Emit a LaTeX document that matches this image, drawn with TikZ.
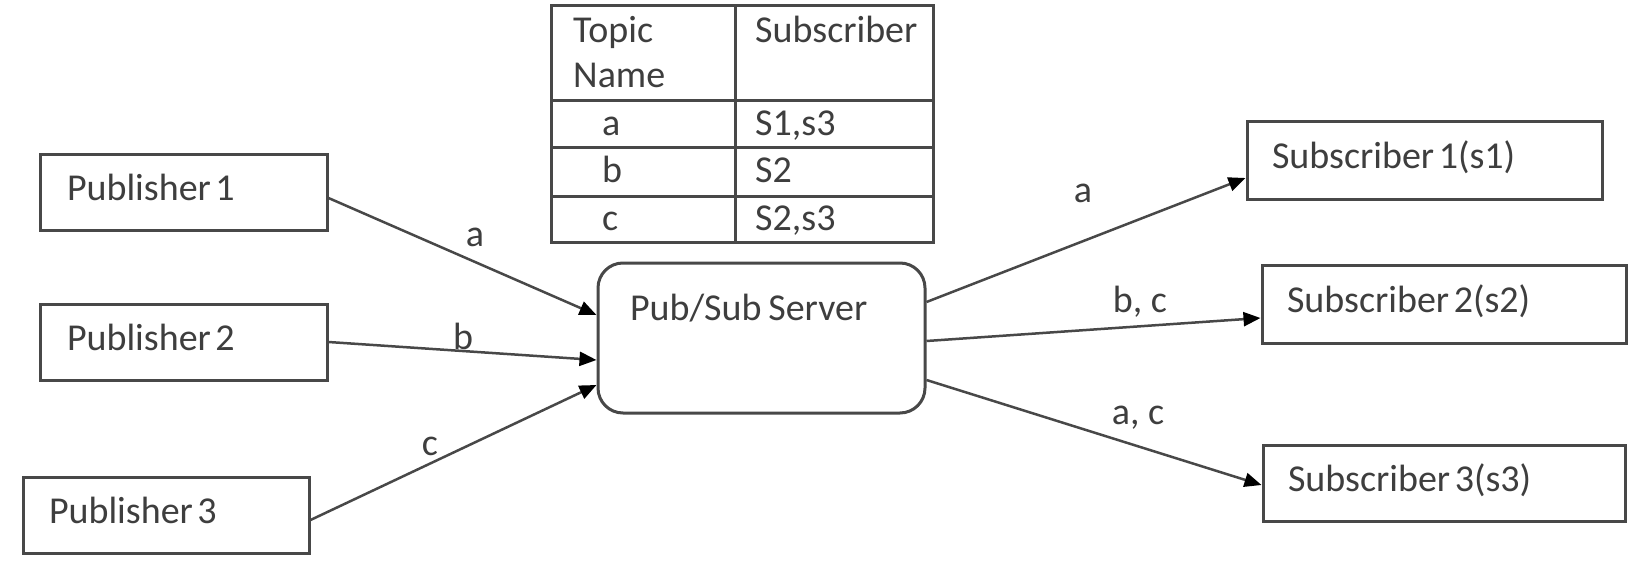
\documentclass[tikz,border=0pt]{standalone}
\usepackage{fontspec}
\setmainfont{Carlito}
\usetikzlibrary{arrows.meta}
\definecolor{lc}{RGB}{72,72,72}
\definecolor{tc}{RGB}{62,62,62}
\newcommand{\hsp}{\hspace{0.12em}}
\begin{document}
\begin{tikzpicture}[x=1pt,y=-1pt,
  every node/.style={font=\fontsize{38}{46}\selectfont, text=tc},
  box/.style={draw=lc, line width=3pt, rectangle, minimum height=76pt, inner ysep=0pt,
    text height=24pt, text depth=8pt, align=left},
  srvbox/.style={draw=lc, line width=3pt, rectangle, rounded corners=25pt, minimum height=150pt,
    inner ysep=0pt, text height=24pt, text depth=60pt, align=left, inner xsep=32pt, text width=263pt},
  arr/.style={draw=lc, line width=2.5pt, -{Triangle[length=17pt,width=14pt,color=black]}},
  lbl/.style={inner sep=0pt},
  cell/.style={anchor=base west, inner sep=0pt},
  grid/.style={draw=lc, line width=3pt}
]
\useasboundingbox[fill=white] (0,0) rectangle (1652,562);

% publishers
\node[box, inner xsep=27pt, text width=233pt] (p1) at (183.5,192) {Publisher\hsp1};
\node[box, inner xsep=27pt, text width=233pt] (p2) at (183.5,342) {Publisher\hsp2};
\node[box, inner xsep=26pt, text width=234pt] (p3) at (166,515) {Publisher\hsp3};

% server
\node[srvbox] (srv) at (761.5,338) {Pub/Sub\hspace{0.18em}Server};

% subscribers
\node[box, minimum height=78pt, inner xsep=25pt, text width=305pt] (s1) at (1424.5,160) {Subscriber\hsp1(s1)};
\node[box, minimum height=78pt, inner xsep=25pt, text width=314pt] (s2) at (1444,304) {Subscriber\hsp2(s2)};
\node[box, inner xsep=25pt, text width=312pt] (s3) at (1444,483) {Subscriber\hsp3(s3)};

% table
\draw[grid] (551,5) rectangle (933,242);
\draw[grid] (735,5) -- (735,242);
\draw[grid] (551,100) -- (933,100);
\draw[grid] (551,147) -- (933,147);
\draw[grid] (551,196) -- (933,196);
\node[cell] (th1) at (573,42) {Topic};
\node[cell] (th2) at (573,87) {Name};
\node[cell] (th3) at (755,42) {Subscriber};
\node[cell] (ra) at (602,135) {a};
\node[cell] (rb) at (602,182) {b};
\node[cell] (rc) at (602,230) {c};
\node[cell] (sa) at (755,135) {S1,s3};
\node[cell] (sb) at (755,182) {S2};
\node[cell] (sc) at (755,230) {S2,s3};

% arrows in
\draw[arr] ([yshift=-6pt]p1.east) -- ([yshift=23pt]srv.west);
\draw[arr] (p2.east) -- ([yshift=-22pt]srv.west);
\draw[arr] ([yshift=-5pt]p3.east) -- ([yshift=-47pt]srv.west);
% arrows out
\draw[arr] ([yshift=36pt]srv.east) -- ([yshift=-18pt]s1.west);
\draw[arr] ([yshift=-3pt]srv.east) -- ([yshift=-14pt]s2.west);
\draw[arr] ([yshift=-42pt]srv.east) -- ([yshift=-2pt]s3.west);

% labels
\node[lbl] (la) at (475,237) {a};
\node[lbl] (lb) at (463,336) {b};
\node[lbl] (lc1) at (430,446) {c};
\node[lbl] (oa) at (1083,193) {a};
\node[lbl] (obc) at (1140,302) {b, c};
\node[lbl] (oac) at (1138,418) {a, c};
\end{tikzpicture}
\end{document}
